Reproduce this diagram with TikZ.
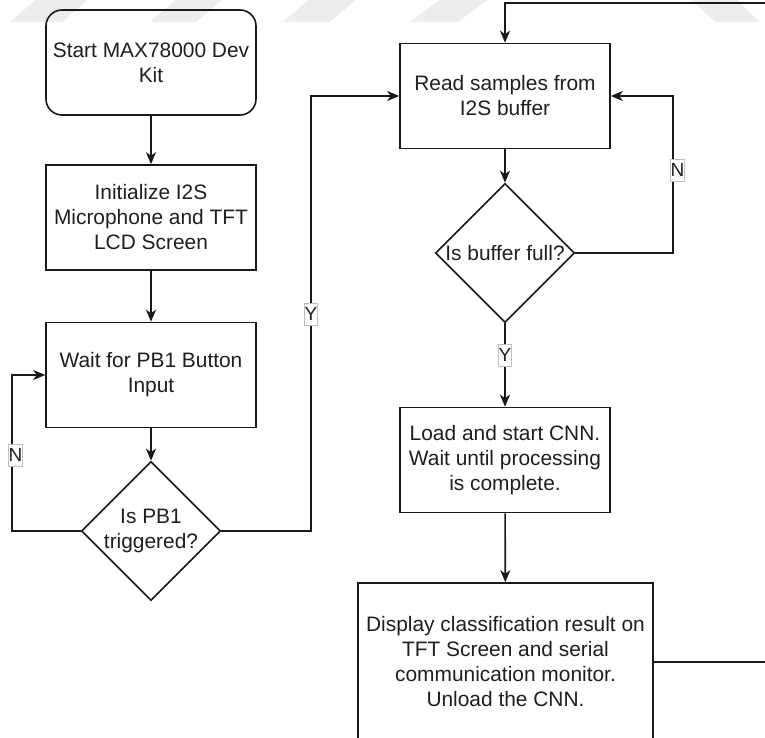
\documentclass[tikz,border=0pt]{standalone}
\usepackage{fontspec}
\setmainfont{Liberation Sans}
\usetikzlibrary{shapes.geometric,arrows.meta}

\tikzset{
  basefont/.style={font=\fontsize{20.9}{25}\selectfont, text=black!88},
  stepbox/.style={draw=black!90, line width=1.6pt, rectangle, basefont, align=center,
    minimum width=210pt, minimum height=105pt, inner sep=0pt},
  startbox/.style={stepbox, rounded corners=16pt},
  decision/.style={draw=black!90, line width=1.6pt, diamond, aspect=1,
    minimum width=139pt, minimum height=139pt, inner sep=0pt},
  dtext/.style={basefont, align=center},
  arr/.style={draw=black!90, line width=1.6pt, -{Stealth[length=12pt,width=10pt,inset=3.5pt]}},
  conn/.style={draw=black!90, line width=1.6pt},
  edgelabel/.style={draw=black!25, line width=0.5pt, fill=white, inner sep=0pt,
    font=\fontsize{19}{22}\selectfont, text=black!88, minimum width=13pt, minimum height=22pt},
  stripe/.style={fill=black!7, draw=none}
}

\begin{document}
\begin{tikzpicture}[x=1pt, y=-1pt]
  \useasboundingbox (0,0) rectangle (765,738);
  \clip (0,0) rectangle (765,738);
  \fill[white] (0,0) rectangle (765,738);

  % faint background bands along the top edge
  \fill[stripe] (10,22) -- (62,22) -- (90,-2) -- (38,-2) -- cycle;
  \fill[stripe] (150,22) -- (196,22) -- (224,-2) -- (178,-2) -- cycle;
  \fill[stripe] (283,22) -- (330,22) -- (358,-2) -- (311,-2) -- cycle;
  \fill[stripe] (410,22) -- (458,22) -- (490,-2) -- (442,-2) -- cycle;
  \fill[stripe] (715,22) -- (760,22) -- (735,-2) -- (690,-2) -- cycle;

  % left column
  \node[startbox] (start) at (151,62.5) {Start MAX78000 Dev\\Kit};
  \node[stepbox] (init) at (151,217.5) {Initialize I2S\\Microphone and TFT\\LCD Screen};
  \node[stepbox] (wait) at (151,375) {Wait for PB1 Button\\Input};
  \node[decision, label={[dtext]center:Is PB1\\triggered?}] (pb1) at (151,531) {};

  % right column
  \node[stepbox] (read) at (505,96) {Read samples from\\I2S buffer};
  \node[decision, label={[dtext]center:Is buffer full?}] (full) at (505,253) {};
  \node[stepbox] (load) at (505,460) {Load and start CNN.\\Wait until processing\\is complete.};
  \node[stepbox, minimum width=295pt, minimum height=158pt] (disp) at (505.5,662)
    {Display classification result on\\TFT Screen and serial\\communication monitor.\\Unload the CNN.};

  % bends of the loops
  \coordinate (nleft) at (12,531);
  \coordinate (yturn) at (311,531);
  \coordinate (nright) at (673,253);
  \coordinate (back) at (790,3);

  % connectors
  \draw[arr] (start) -- (init);
  \draw[arr] (init) -- (wait);
  \draw[arr] (wait) -- (pb1);
  \draw[arr] (pb1.west) -- (nleft) |- (wait.west);
  \draw[arr] (pb1.east) -- (yturn) |- (read.west);
  \draw[arr] (read) -- (full);
  \draw[arr] (full.east) -- (nright) |- (read.east);
  \draw[arr] (full.south) -- (load.north);
  \draw[arr] (load) -- (disp);
  \draw[arr] (disp.east) -| (back) -| (read.north);

  % branch labels
  \node[edgelabel] (lbn1) at (15.5,455) {N};
  \node[edgelabel] (lby1) at (311,314) {Y};
  \node[edgelabel] (lbn2) at (677.5,170) {N};
  \node[edgelabel] (lby2) at (505,355) {Y};
\end{tikzpicture}
\end{document}
